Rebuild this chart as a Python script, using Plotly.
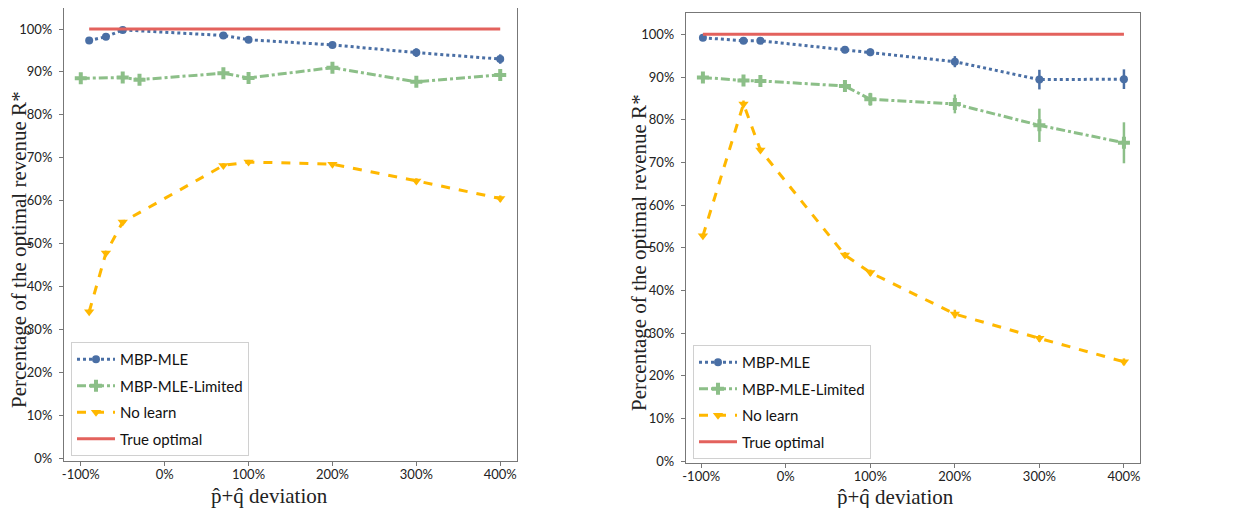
import plotly.graph_objects as go

# ---------------- data ----------------
# Left panel
L_x_mle = [-90, -70, -50, 70, 100, 200, 300, 400]
L_mle = [97.3, 98.2, 99.8, 98.5, 97.5, 96.3, 94.5, 93.0]
L_mle_err = [0.6, 0.6, 0.6, 0.6, 0.7, 0.7, 1.0, 1.1]

L_x_lim = [-100, -50, -30, 70, 100, 200, 300, 400]
L_lim = [88.5, 88.7, 88.2, 89.7, 88.6, 91.0, 87.7, 89.3]
L_lim_err = [1.1, 1.1, 1.2, 1.1, 1.0, 1.0, 1.1, 1.2]

L_x_nol = [-90, -70, -50, 70, 100, 200, 300, 400]
L_nol = [34.1, 47.8, 55.0, 68.2, 69.0, 68.5, 64.6, 60.5]
L_nol_err = [0.5, 0.5, 0.5, 0.5, 0.5, 0.5, 0.6, 0.7]

L_x_opt = [-90, 400]
L_opt = [100, 100]

# Right panel
R_x = [-98, -50, -30, 70, 100, 200, 300, 400]
R_mle = [99.2, 98.5, 98.5, 96.4, 95.8, 93.6, 89.4, 89.5]
R_mle_err = [0.6, 0.6, 0.6, 0.8, 0.9, 1.3, 2.3, 2.3]
R_lim = [89.9, 89.2, 89.1, 87.9, 84.8, 83.7, 78.7, 74.6]
R_lim_err = [0.9, 0.9, 0.9, 1.3, 1.5, 2.2, 3.9, 4.8]
R_nol = [52.8, 83.7, 72.9, 48.3, 44.2, 34.5, 28.8, 23.3]
R_nol_err = [0.5, 0.8, 0.6, 0.7, 0.7, 1.0, 0.8, 0.8]
R_x_opt = [-98, 400]
R_opt = [100, 100]

names = ["MBP-MLE", "MBP-MLE-Limited", "No learn", "True optimal"]
x_title = "p̂+q̂ deviation"
y_title = "Percentage of the optimal revenue R*"
x_tickvals = [-100, 0, 100, 200, 300, 400]
x_ticktext = ["-100%", "0%", "100%", "200%", "300%", "400%"]
y_tickvals = [0, 10, 20, 30, 40, 50, 60, 70, 80, 90, 100]
y_ticktext = ["0%", "10%", "20%", "30%", "40%", "50%", "60%", "70%", "80%", "90%", "100%"]

# ---------------- style ----------------
C_BLUE = "#4A6FA5"
C_GREEN = "#8CBF88"
C_YEL = "#FFB800"
C_RED = "#E3625D"

fig = go.Figure()


def add_series(x, y, err, name, color, dash, symbol, msize, xa, ya, legend, group):
    kw = dict(
        x=x, y=y, name=name, mode="lines+markers" if symbol else "lines",
        line=dict(color=color, width=3, dash=dash),
        xaxis=xa, yaxis=ya, legend=legend, legendgroup=group,
    )
    if symbol:
        kw["marker"] = dict(symbol=symbol, size=msize, color=color,
                            line=dict(width=0))
    if err is not None:
        kw["error_y"] = dict(type="data", array=err, color=color,
                             thickness=2.5, width=0)
    fig.add_trace(go.Scatter(**kw))


add_series(L_x_mle, L_mle, L_mle_err, names[0], C_BLUE, "dot", "circle", 8, "x", "y", "legend", "a1")
add_series(L_x_lim, L_lim, L_lim_err, names[1], C_GREEN, "dashdot", "cross", 10, "x", "y", "legend", "a2")
add_series(L_x_nol, L_nol, L_nol_err, names[2], C_YEL, "dash", "triangle-down", 9, "x", "y", "legend", "a3")
add_series(L_x_opt, L_opt, None, names[3], C_RED, "solid", None, 0, "x", "y", "legend", "a4")

add_series(R_x, R_mle, R_mle_err, names[0], C_BLUE, "dot", "circle", 8, "x2", "y2", "legend2", "b1")
add_series(R_x, R_lim, R_lim_err, names[1], C_GREEN, "dashdot", "cross", 10, "x2", "y2", "legend2", "b2")
add_series(R_x, R_nol, R_nol_err, names[2], C_YEL, "dash", "triangle-down", 9, "x2", "y2", "legend2", "b3")
add_series(R_x_opt, R_opt, None, names[3], C_RED, "solid", None, 0, "x2", "y2", "legend2", "b4")

W, H = 1235, 508
OFF = 8  # page body margin
tickfont = dict(family="Lato, 'Open Sans', sans-serif", size=13, color="#222")
titlefont = dict(family="'Liberation Serif', 'DejaVu Serif', serif", size=21, color="#222")

axis_common = dict(
    showline=True, linecolor="#777", linewidth=1.2, mirror=True,
    ticks="outside", ticklen=4, tickcolor="#777", tickwidth=1,
    showgrid=False, zeroline=False, tickfont=tickfont, automargin=False,
)

legend_common = dict(
    xanchor="left", yanchor="top",
    bgcolor="white", bordercolor="#d0d0d0", borderwidth=1,
    font=dict(family="Lato, 'Open Sans', sans-serif", size=15, color="#111"),
    itemwidth=38, tracegroupgap=4, traceorder="grouped",
)


def px(v):
    return (v - OFF) / W


def py(v):
    return 1 - (v - OFF) / H


fig.update_layout(
    width=W, height=H,
    margin=dict(l=0, r=0, t=0, b=0),
    paper_bgcolor="white", plot_bgcolor="white",
    xaxis=dict(domain=[px(64), px(517)], range=[-120, 420], anchor="y",
               tickvals=x_tickvals, ticktext=x_ticktext, ticklabelstandoff=-3,
               **axis_common),
    yaxis=dict(domain=[py(461), py(8)], range=[-0.7, 104.9], anchor="x",
               tickvals=y_tickvals, ticktext=y_ticktext, ticklabelstandoff=4,
               **axis_common),
    xaxis2=dict(domain=[px(686), px(1140)], range=[-118, 419], anchor="y2",
                tickvals=x_tickvals, ticktext=x_ticktext, ticklabelstandoff=-3,
                **axis_common),
    yaxis2=dict(domain=[py(463), py(13)], range=[-0.4, 105], anchor="x2",
                tickvals=y_tickvals, ticktext=y_ticktext, ticklabelstandoff=4,
                **axis_common),
    legend=dict(x=px(71), y=py(342), **legend_common),
    legend2=dict(x=px(693), y=py(345), **legend_common),
)

for (ax, ay) in [(269, 496), (895, 497)]:
    fig.add_annotation(text=x_title, x=px(ax), y=py(ay), xref="paper", yref="paper",
                       showarrow=False, font=titlefont, xanchor="center", yanchor="middle")
for (ax, ay) in [(19, 250), (639, 253)]:
    fig.add_annotation(text=y_title, x=px(ax), y=py(ay), xref="paper", yref="paper",
                       showarrow=False, font=titlefont, textangle=-90,
                       xanchor="center", yanchor="middle")

fig.write_html("out.html")
